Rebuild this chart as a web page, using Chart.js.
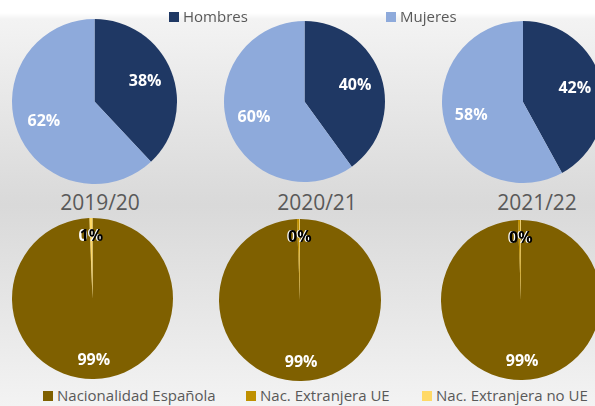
<!DOCTYPE html>
<html>
<head>
<meta charset="utf-8">
<script src="https://cdn.jsdelivr.net/npm/chart.js@4"></script>
<style>
  body {
    margin: 0;
    width: 595px;
    height: 406px;
    overflow: hidden;
    position: relative;
    font-family: "Open Sans", sans-serif;
    color: #595959;
    background: linear-gradient(to bottom, #ffffff 0px, #ffffff 13px, #f3f3f3 19px, #d9d9d9 205px, #f3f3f3 406px);
  }
  .pie { position: absolute; }
  .title {
    position: absolute;
    width: 120px;
    margin-left: -60px;
    text-align: center;
    font-size: 21px;
    line-height: 21px;
  }
  .leg {
    position: absolute;
    font-size: 15px;
    line-height: 15px;
    white-space: nowrap;
    display: flex;
    align-items: center;
  }
  .leg i {
    display: inline-block;
    width: 10px;
    height: 10px;
    margin-right: 4px;
  }
</style>
</head>
<body>
<script>
  // ---- data ----
  const years = ["2019/20", "2020/21", "2021/22"];
  const sexLabels = ["Hombres", "Mujeres"];
  const hombres = [38, 40, 42];
  const mujeres = [62, 60, 58];
  const nacLabels = ["Nacionalidad Española", "Nac. Extranjera UE", "Nac. Extranjera no UE"];
  const espanola = [99.35, 99.4, 99.4];
  const extUE = [0.1, 0.48, 0.48];
  const extNoUE = [0.55, 0.12, 0.12];

  const sexColors = ["#1f3864", "#8eaadb"];
  const nacColors = ["#7f6000", "#bf9000", "#ffd966"];

  // pie boxes: centre x, centre y, radius
  const topPies = [[94, 101.5, 82.5], [304, 101.5, 80.5], [523, 102, 81]];
  const botPies = [[92, 298.5, 80.5], [300, 300, 81], [521, 300, 80]];

  // draws the percentage labels inside each slice
  const pctLabels = {
    id: "pctLabels",
    afterDatasetsDraw(chart, args, opts) {
      const ctx = chart.ctx;
      const ds = chart.data.datasets[0];
      const meta = chart.getDatasetMeta(0);
      const total = ds.data.reduce((a, b) => a + b, 0);
      ctx.save();
      ctx.font = "bold 16px 'Open Sans'";
      ctx.textAlign = "center";
      ctx.textBaseline = "middle";
      meta.data.forEach((arc, i) => {
        const p = arc.getProps(["x", "y", "startAngle", "endAngle", "outerRadius"], true);
        const mid = (p.startAngle + p.endAngle) / 2;
        const r = p.outerRadius * opts.pos;
        ctx.fillStyle = opts.colors[i];
        ctx.fillText(Math.round((ds.data[i] / total) * 100) + "%", p.x + Math.cos(mid) * r, p.y + Math.sin(mid) * r);
      });
      ctx.restore();
    },
  };

  function makePie(box, labels, values, colors, labelColors, pos) {
    const div = document.createElement("div");
    div.className = "pie";
    div.style.left = box[0] - box[2] + "px";
    div.style.top = box[1] - box[2] + "px";
    div.style.width = box[2] * 2 + "px";
    div.style.height = box[2] * 2 + "px";
    const canvas = document.createElement("canvas");
    div.appendChild(canvas);
    document.body.appendChild(div);
    new Chart(canvas.getContext("2d"), {
      type: "pie",
      data: {
        labels: labels,
        datasets: [
          {
            data: values,
            backgroundColor: colors,
            borderWidth: 0,
            offset: 0,
            hoverOffset: 0,
          },
        ],
      },
      options: {
        responsive: true,
        maintainAspectRatio: false,
        animation: false,
        layout: { padding: 0 },
        events: [],
        plugins: {
          legend: { display: false },
          tooltip: { enabled: false },
          pctLabels: { colors: labelColors, pos: pos },
        },
      },
      plugins: [pctLabels],
    });
  }

  years.forEach((y, i) => {
    makePie(topPies[i], sexLabels, [hombres[i], mujeres[i]], sexColors, ["#ffffff", "#ffffff"], 0.66);
    makePie(botPies[i], nacLabels, [espanola[i], extUE[i], extNoUE[i]], nacColors, ["#ffffff", "#ffffff", "#000000"], 0.77);
  });

  // year titles
  const titleX = [100, 317, 537];
  years.forEach((y, i) => {
    const t = document.createElement("div");
    t.className = "title";
    t.style.left = titleX[i] + "px";
    t.style.top = "192px";
    t.textContent = y;
    document.body.appendChild(t);
  });

  // legends
  function addLegend(labels, colors, lefts, top) {
    labels.forEach((lab, i) => {
      const d = document.createElement("div");
      d.className = "leg";
      d.style.left = lefts[i] + "px";
      d.style.top = top + "px";
      d.innerHTML = '<i style="background:' + colors[i] + '"></i>' + lab;
      document.body.appendChild(d);
    });
  }
  addLegend(sexLabels, sexColors, [169, 386], 9);
  addLegend(nacLabels, nacColors, [43, 246, 422], 388);
</script>
</body>
</html>
